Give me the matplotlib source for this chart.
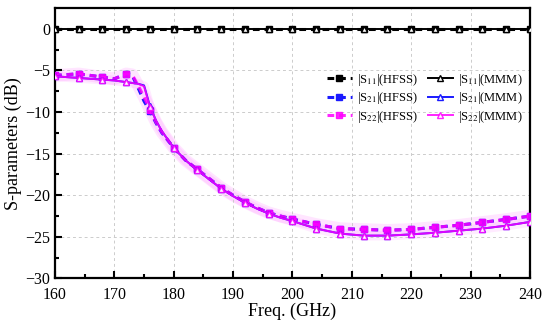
import numpy as np
from matplotlib import pyplot as plt

plt.rcParams['font.family'] = ['Liberation Serif', 'DejaVu Serif']
plt.rcParams['mathtext.fontset'] = 'stix'

# frequency points (GHz)
freq = [160, 162, 164, 166, 168, 170, 171, 172, 173, 174, 175, 176, 177, 178, 180,
        182, 184, 186, 188, 190, 192, 194, 196, 198, 200, 204, 208, 212, 216, 220,
        224, 228, 232, 236, 240]

# HFSS results (dB)
s11_hfss = [0.0] * len(freq)
s21_hfss = [-5.6, -5.5, -5.4, -5.6, -5.8, -6.0, -5.7, -5.4, -5.6, -7.1, -8.7, -9.9,
            -11.3, -12.5, -14.3, -15.8, -16.9, -18.0, -19.1, -20.0, -20.8, -21.5,
            -22.1, -22.5, -22.85, -23.5, -24.0, -24.1, -24.2, -24.1, -23.85, -23.6,
            -23.25, -22.9, -22.5]
s22_hfss = [-5.6, -5.5, -5.4, -5.6, -5.8, -6.0, -5.7, -5.4, -5.5, -6.8, -8.2, -9.7,
            -11.2, -12.4, -14.3, -15.8, -16.9, -18.0, -19.1, -20.0, -20.8, -21.5,
            -22.1, -22.5, -22.85, -23.5, -24.0, -24.1, -24.2, -24.1, -23.85, -23.6,
            -23.25, -22.9, -22.5]

# mode matching results (dB)
s11_mmm = [0.0] * len(freq)
s21_mmm = [-5.7, -5.8, -5.9, -6.0, -6.1, -6.2, -6.3, -6.4, -6.5, -6.6, -6.8, -9.3,
           -11.0, -12.3, -14.3, -15.8, -17.0, -18.1, -19.2, -20.1, -20.9, -21.6,
           -22.2, -22.7, -23.1, -24.0, -24.6, -24.85, -24.85, -24.7, -24.5, -24.25,
           -24.0, -23.65, -23.2]
s22_mmm = [-5.7, -5.8, -5.9, -6.0, -6.1, -6.2, -6.3, -6.4, -6.5, -6.6, -6.9, -9.4,
           -11.0, -12.3, -14.3, -15.8, -17.0, -18.1, -19.2, -20.1, -20.9, -21.6,
           -22.2, -22.7, -23.1, -24.0, -24.6, -24.85, -24.85, -24.7, -24.5, -24.25,
           -24.0, -23.65, -23.2]

labels = [r'|S$_{11}$|', r'|S$_{21}$|', r'|S$_{22}$|']
colors = ['black', '#1a1aff', '#ff00ff']

# markers every 4 GHz
mk = [i for i, f in enumerate(freq) if f % 4 == 0]

fig = plt.figure(figsize=(5.5, 3.29), dpi=100)
ax = fig.add_axes([0.1, 0.1535, 0.8636, 0.822])

# pink glow under S22
ax.plot(freq, s22_hfss, color='#ff00ff', lw=9, alpha=0.10, solid_capstyle='butt', zorder=1)
ax.plot(freq, s22_mmm, color='#ff00ff', lw=7, alpha=0.08, solid_capstyle='butt', zorder=1)

hfss = [s11_hfss, s21_hfss, s22_hfss]
mmm = [s11_mmm, s21_mmm, s22_mmm]
h1 = []
h2 = []
for k in range(3):
    a = 0.85 if k == 2 else 1.0
    l, = ax.plot(freq, hfss[k], ls=(0, (2.2, 1.6)), lw=2.2, color=colors[k], alpha=a,
                 marker='s', ms=4, markevery=mk, label=labels[k] + '(HFSS)', zorder=3)
    h1.append(l)
for k in range(3):
    a = 0.85 if k == 2 else 1.0
    l, = ax.plot(freq, mmm[k], ls='-', lw=1.4, color=colors[k], alpha=a,
                 marker='^', ms=4, mfc='white', mew=1.0, markevery=mk,
                 label=labels[k] + '(MMM)', zorder=4)
    h2.append(l)

ax.set_xlim(160, 240)
ax.set_ylim(-30, 2.5)
ax.set_xticks(np.arange(160, 241, 10))
ax.set_xticks(np.arange(165, 240, 10), minor=True)
ax.set_yticks(np.arange(-30, 1, 5))
ax.set_yticks(np.arange(-27.5, 0, 5), minor=True)
ax.tick_params(which='both', direction='in', labelsize=11.5, width=1.5)
ax.tick_params(which='major', length=5)
ax.tick_params(which='minor', length=3)
ax.tick_params(axis='x', pad=6)
ax.grid(True, which='major', ls=(0, (3, 3)), color='#cccccc', lw=0.7)
for s in ax.spines.values():
    s.set_linewidth(1.6)

ax.set_xlabel('Freq. (GHz)', fontsize=13, labelpad=0)
ax.set_ylabel('S-parameters (dB)', fontsize=13, labelpad=2)

ax.legend(h1 + h2, [h.get_label() for h in h1 + h2], ncol=2, frameon=False,
          loc='center right', bbox_to_anchor=(1.0, 0.667), fontsize=9,
          handlelength=2.0, columnspacing=0.8, handletextpad=0.4, labelspacing=0.2,
          borderaxespad=0.2)

plt.savefig('out.png', dpi=100)
